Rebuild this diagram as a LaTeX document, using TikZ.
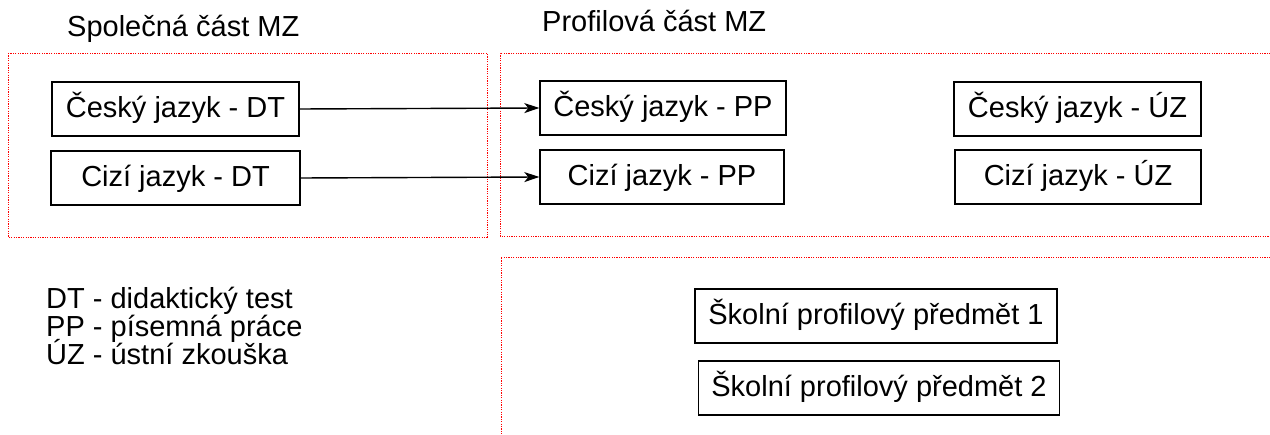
\documentclass[tikz,border=0pt]{standalone}
\usepackage{fontspec}
\setmainfont{Liberation Sans}
\usetikzlibrary{arrows.meta}
\begin{document}
\begin{tikzpicture}[x=1pt,y=-1pt,
  box/.style={draw=black, line width=1.4pt, rectangle, minimum height=54pt, inner sep=0pt, text height=24pt, text depth=6pt, font=\fontsize{29}{32}\selectfont},
  zone/.style={draw=red, line width=0.9pt, dash pattern=on 1.2pt off 1.2pt},
  conn/.style={draw=black, line width=1.4pt, -{Stealth[length=15pt,width=10pt,inset=4pt]}},
  title/.style={anchor=base west, inner sep=0pt, font=\fontsize{29}{32}\selectfont},
  legend/.style={anchor=base west, inner sep=0pt, font=\fontsize{29}{31}\selectfont}
]
\useasboundingbox (0,0) rectangle (1270,435);
\fill[white] (0,0) rectangle (1270,435);

% zones
\draw[zone] (8,53) rectangle (487,237);
\draw[zone] (1280,53) -- (500,53) -- (500,236) -- (1280,236);
\draw[zone] (1280,257) -- (501,257) -- (501,445);

% titles
\node[title] (t1) at (67,37) {Společná část MZ};
\node[title] (t2) at (542,32) {Profilová část MZ};

% boxes
\node[box, minimum width=247pt] (cjdt) at (175.5,109) {Český jazyk - DT};
\node[box, minimum width=249pt] (czdt) at (175.5,178) {Cizí jazyk - DT};
\node[box, minimum width=246pt] (cjpp) at (663,108) {Český jazyk - PP};
\node[box, minimum width=244pt] (czpp) at (662,177) {Cizí jazyk - PP};
\node[box, minimum width=247pt] (cjuz) at (1077.5,109) {Český jazyk - ÚZ};
\node[box, minimum width=246pt] (czuz) at (1078,177) {Cizí jazyk - ÚZ};
\node[box, minimum width=362pt] (s1) at (876,316) {Školní profilový předmět 1};
\node[box, minimum width=361pt] (s2) at (879,388) {Školní profilový předmět 2};

% connectors
\draw[conn] (cjdt.east) -- (cjpp.west);
\draw[conn] (czdt.east) -- (czpp.west);

% legend
\node[legend] (l1) at (46,309) {DT - didaktický test};
\node[legend] (l2) at (46,337) {PP - písemná práce};
\node[legend] (l3) at (46,365) {ÚZ - ústní zkouška};
\end{tikzpicture}
\end{document}
